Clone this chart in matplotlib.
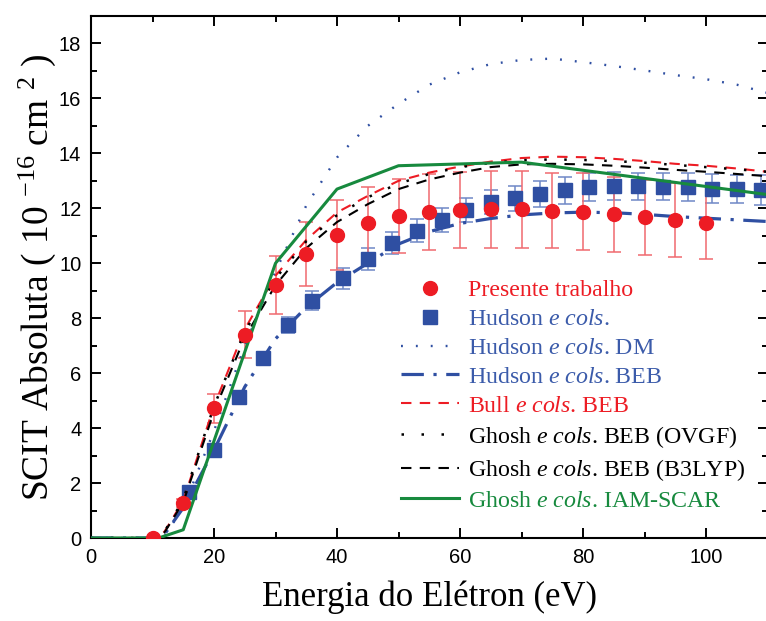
"""SCIT absoluta vs energia do elétron — comparação com teoria e outros experimentos."""
import numpy as np
import matplotlib
matplotlib.use("Agg")
import matplotlib.pyplot as plt
from matplotlib.ticker import MultipleLocator

plt.rcParams["font.family"] = ["Liberation Sans", "DejaVu Sans"]
plt.rcParams["mathtext.fontset"] = "custom"
plt.rcParams["mathtext.rm"] = "Liberation Serif"
plt.rcParams["mathtext.it"] = "Liberation Serif:italic"

VERMELHO = "#ED1C24"
AZUL = "#2F4FA2"
VERDE = "#178A3E"

# Presente trabalho (pontos + barras de erro)
e_pres = [10, 15, 20, 25, 30, 35, 40, 45, 50, 55, 60, 65, 70, 75, 80, 85, 90, 95, 100]
s_pres = [0.0, 1.27, 4.72, 7.40, 9.20, 10.35, 11.03, 11.47, 11.72, 11.88, 11.94, 11.96,
          11.96, 11.92, 11.87, 11.78, 11.67, 11.58, 11.48]
err_pres = [0.0, 0.15, 0.52, 0.85, 1.05, 1.17, 1.27, 1.32, 1.36, 1.38, 1.38, 1.39,
            1.39, 1.38, 1.40, 1.37, 1.37, 1.35, 1.33]

# Hudson e cols. (experimento)
e_hud = [16, 20, 24, 28, 32, 36, 41, 45, 49, 53, 57, 61, 65, 69, 73, 77, 81, 85, 89,
         93, 97, 101, 105, 109]
s_hud = [1.68, 3.22, 5.12, 6.56, 7.76, 8.64, 9.45, 10.15, 10.73, 11.18, 11.57, 11.94,
         12.22, 12.36, 12.53, 12.65, 12.77, 12.81, 12.80, 12.79, 12.77, 12.72, 12.71, 12.66]
err_hud = [0.10, 0.15, 0.15, 0.20, 0.29, 0.35, 0.37, 0.40, 0.40, 0.42, 0.43, 0.43,
           0.43, 0.45, 0.47, 0.48, 0.50, 0.50, 0.50, 0.50, 0.50, 0.52, 0.52, 0.54]

# Curvas teóricas
e_teo = [0, 10, 11, 12, 15, 20, 25, 30, 35, 40, 45, 50, 55, 60, 65, 70, 75, 80, 85,
         90, 95, 100, 105, 110]
s_dm = [0, 0, 0, 0.10, 1.10, 3.90, 7.00, 9.70, 12.10, 13.85, 15.00, 15.80, 16.50,
        16.95, 17.25, 17.40, 17.45, 17.32, 17.18, 17.02, 16.85, 16.70, 16.50, 16.20]
s_hud_beb = [0, 0, 0, 0.15, 1.10, 3.20, 5.50, 7.25, 8.40, 9.30, 10.00, 10.70, 11.15,
             11.45, 11.63, 11.76, 11.83, 11.86, 11.84, 11.78, 11.70, 11.64, 11.58, 11.52]
s_bull = [0, 0, 0, 0.25, 1.35, 4.80, 7.60, 9.55, 10.85, 11.85, 12.45, 13.00, 13.30,
          13.52, 13.70, 13.83, 13.88, 13.86, 13.80, 13.72, 13.62, 13.55, 13.45, 13.33]
s_ovgf = [0, 0, 0, 0.25, 1.40, 4.80, 7.50, 9.45, 10.80, 11.75, 12.40, 12.90, 13.25,
          13.50, 13.65, 13.75, 13.78, 13.76, 13.72, 13.66, 13.58, 13.50, 13.42, 13.33]
s_b3lyp = [0, 0, 0, 0.22, 1.30, 4.60, 7.30, 9.20, 10.55, 11.50, 12.15, 12.70, 13.05,
           13.30, 13.50, 13.60, 13.62, 13.60, 13.55, 13.48, 13.40, 13.33, 13.25, 13.17]

e_iam = [0, 11, 15, 30, 40, 50, 70, 110]
s_iam = [0, 0, 0.30, 10.0, 12.70, 13.55, 13.68, 12.50]

fig = plt.figure(figsize=(7.66, 6.21), dpi=100)
ax = fig.add_axes([91 / 766, 1 - 538 / 621, 676.5 / 766, 522 / 621])

# barras de erro
ax.errorbar(e_hud, s_hud, yerr=err_hud, fmt="none", ecolor="#6F88C6",
            elinewidth=1.1, capsize=5, capthick=1.1, zorder=2)
ax.errorbar(e_pres, s_pres, yerr=err_pres, fmt="none", ecolor="#F06A6F",
            elinewidth=1.1, capsize=5, capthick=1.1, zorder=2)

h_hud, = ax.plot(e_hud, s_hud, "s", color=AZUL, markersize=9.5, linestyle="none",
                 zorder=3, label=r"Hudson $\mathit{e\ cols}$.")
h_dm, = ax.plot(e_teo, s_dm, color=AZUL, linewidth=1.7, linestyle=(0, (0.8, 5.5)),
                zorder=4, label=r"Hudson $\mathit{e\ cols}$. DM")
h_beb, = ax.plot(e_teo, s_hud_beb, color=AZUL, linewidth=2.3,
                 linestyle=(0, (7, 3, 1, 3)), zorder=4,
                 label=r"Hudson $\mathit{e\ cols}$. BEB")
h_bull, = ax.plot(e_teo, s_bull, color=VERMELHO, linewidth=1.5, linestyle=(0, (5, 4)),
                  zorder=4, label=r"Bull $\mathit{e\ cols}$. BEB")
h_ovgf, = ax.plot(e_teo, s_ovgf, color="black", linewidth=1.8, linestyle=(0, (1, 7)),
                  zorder=4, label=r"Ghosh $\mathit{e\ cols}$. BEB (OVGF)")
h_b3, = ax.plot(e_teo, s_b3lyp, color="black", linewidth=1.5, linestyle=(0, (5, 4)),
                zorder=4, label=r"Ghosh $\mathit{e\ cols}$. BEB (B3LYP)")
h_iam, = ax.plot(e_iam, s_iam, color=VERDE, linewidth=2.2, zorder=5,
                 label=r"Ghosh $\mathit{e\ cols}$. IAM-SCAR")
h_pres, = ax.plot(e_pres, s_pres, "o", color=VERMELHO, markersize=10, linestyle="none",
                  zorder=6, label="Presente trabalho")

ax.set_xlim(0, 110)
ax.set_ylim(0, 19)
ax.xaxis.set_major_locator(MultipleLocator(20))
ax.xaxis.set_minor_locator(MultipleLocator(10))
ax.yaxis.set_major_locator(MultipleLocator(2))
ax.yaxis.set_minor_locator(MultipleLocator(1))
ax.tick_params(which="both", direction="in", top=True, right=True, width=1.4,
               labelsize=14.5, pad=7)
ax.tick_params(which="major", length=7)
ax.tick_params(which="minor", length=4)
for s in ax.spines.values():
    s.set_linewidth(1.5)

ax.set_xlabel("Energia do Elétron (eV)", fontsize=25, family="Liberation Serif",
              labelpad=10)
ax.set_ylabel(r"SCIT Absoluta ( 10 $^{-16}$ cm $^{2}$ )", fontsize=27,
              family="Liberation Serif", labelpad=1)

handles = [h_pres, h_hud, h_dm, h_beb, h_bull, h_ovgf, h_b3, h_iam]
cores = [VERMELHO, "#3B5BAA", "#3B5BAA", "#3B5BAA", VERMELHO, "black", "black", VERDE]
leg = ax.legend(handles=handles, loc="upper left", bbox_to_anchor=(0.455, 0.5),
                frameon=False, handlelength=2.4, handletextpad=0.4,
                labelspacing=0.3, borderaxespad=0, borderpad=0.1,
                prop={"family": "Liberation Serif", "size": 17.2})
for t, c in zip(leg.get_texts(), cores):
    t.set_color(c)

plt.savefig("out.png", dpi=100)
